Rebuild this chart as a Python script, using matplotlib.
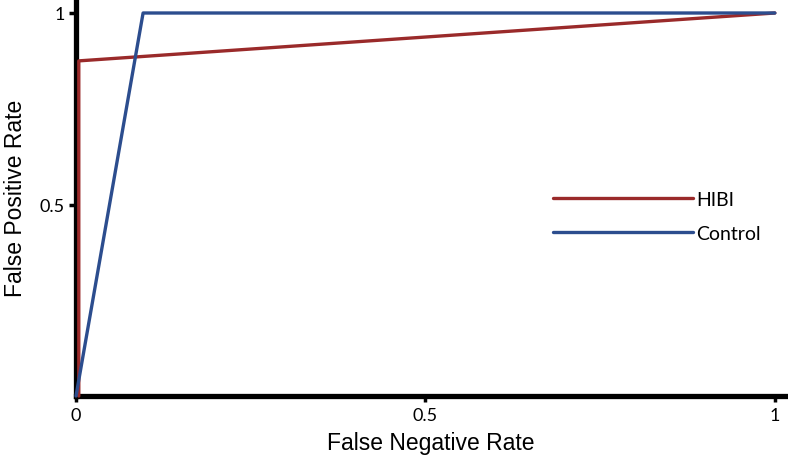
import matplotlib
matplotlib.use("Agg")
import matplotlib.pyplot as plt

hibi_x = [0.004, 0.004, 1]
hibi_y = [0, 0.875, 1]
control_x = [0, 0.096, 1]
control_y = [0, 1, 1]
xticks = [0, 0.5, 1]
xtick_labels = ["0", "0.5", "1"]
yticks = [0.5, 1]
ytick_labels = ["0.5", "1"]

plt.rcParams['font.family'] = ['Lato', 'DejaVu Sans']
fig = plt.figure(figsize=(7.88, 4.6), dpi=100)
ax_w = 1 - 76/788 - 0.004
ax = fig.add_axes([76/788, 1 - 397/460, ax_w, 397/460])
ax.plot(hibi_x, hibi_y, color='#9a2a2a', lw=2.4, label='HIBI',
        solid_capstyle='round', zorder=3, clip_on=False)
ax.plot(control_x, control_y, color='#2c4d8e', lw=2.4, label='Control',
        solid_capstyle='round', zorder=3, clip_on=False)
ax.set_xlim(0, (785 - 76) / 699)
ax.set_ylim(0, 397 / 383)
for s in ['top', 'right']:
    ax.spines[s].set_visible(False)
for s in ['left', 'bottom']:
    ax.spines[s].set_linewidth(3.8)
    ax.spines[s].set_color('black')
ax.set_xticks(xticks)
ax.set_xticklabels(xtick_labels, fontsize=13)
ax.set_yticks(yticks)
ax.set_yticklabels(ytick_labels, fontsize=13)
ax.tick_params(axis='x', length=4, width=2.5, pad=4)
ax.tick_params(axis='y', length=5, width=2.5, pad=3)
ax.set_xlabel('False Negative Rate', fontsize=16.5, family='Liberation Sans', labelpad=6)
ax.set_ylabel('False Positive Rate', fontsize=16.5, family='Liberation Sans', labelpad=9)
ax_px_w = 788 * ax_w
ax.legend(loc='upper left', bbox_to_anchor=((553 - 76) / ax_px_w, (397 - 192) / 397),
          frameon=False, fontsize=14, handlelength=7.2, handletextpad=0.15,
          labelspacing=0.86, borderaxespad=0, borderpad=0)
fig.savefig('out.png', dpi=100)
